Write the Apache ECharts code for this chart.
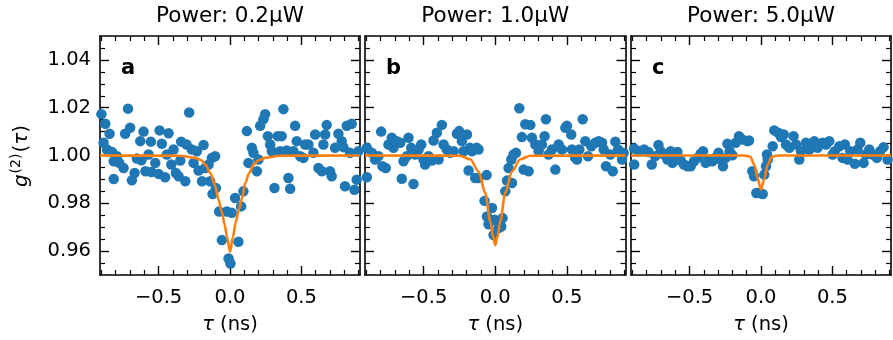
<!DOCTYPE html>
<html>
<head>
<meta charset="utf-8">
<script src="https://cdn.jsdelivr.net/npm/echarts@6/dist/echarts.min.js"></script>
<style>
html,body{margin:0;padding:0;background:#fff;}
#chart{width:893px;height:340px;}
</style>
</head>
<body>
<div id="chart"></div>
<script>
// ---------------- data ----------------
const panelTitles = ['Power: 0.2\u03bcW', 'Power: 1.0\u03bcW', 'Power: 5.0\u03bcW'];
const panelLetters = ['a', 'b', 'c'];
const xTicks = [-0.5, 0, 0.5];
const xMinorTicks = [-0.9,-0.8,-0.7,-0.6,-0.4,-0.3,-0.2,-0.1,0.1,0.2,0.3,0.4,0.6,0.7,0.8,0.9];
const yTicks = [0.96, 0.98, 1.00, 1.02, 1.04];
const yMinorTicks = [0.955,0.965,0.97,0.975,0.985,0.99,0.995,1.005,1.01,1.015,1.025,1.03,1.035,1.045];

const tauA = [-0.900,-0.885,-0.873,-0.861,-0.843,-0.826,-0.814,-0.814,-0.791,-0.775,-0.745,-0.734,-0.714,-0.699,-0.687,-0.668,-0.652,-0.628,-0.620,-0.605,-0.592,-0.570,-0.554,-0.551,-0.523,-0.500,-0.493,-0.477,-0.454,-0.442,-0.430,-0.411,-0.395,-0.379,-0.360,-0.348,-0.342,-0.313,-0.304,-0.286,-0.267,-0.255,-0.232,-0.220,-0.196,-0.185,-0.174,-0.150,-0.139,-0.127,-0.122,-0.104,-0.099,-0.076,-0.057,-0.022,-0.010,0.003,0.013,0.036,0.059,0.078,0.094,0.118,0.129,0.153,0.164,0.188,0.199,0.211,0.234,0.246,0.265,0.281,0.293,0.311,0.334,0.351,0.362,0.374,0.397,0.409,0.421,0.444,0.456,0.467,0.491,0.514,0.526,0.549,0.584,0.596,0.619,0.643,0.654,0.666,0.677,0.700,0.712,0.735,0.759,0.782,0.794,0.805,0.817,0.840,0.852,0.871,0.887,0.899];
const g2A = [1.0173,1.0053,1.0133,1.0025,1.0091,1.0015,0.9976,0.9902,0.9997,0.9969,0.9948,1.0091,1.0196,1.0116,0.9896,0.9927,0.9987,1.0060,0.9980,1.0100,0.9934,1.0004,1.0058,0.9931,0.9969,0.9923,1.0105,1.0049,0.9909,1.0004,1.0093,0.9962,1.0025,0.9927,0.9913,0.9979,1.0058,0.9892,1.0046,1.0180,1.0025,0.9969,1.0018,0.9937,0.9892,1.0044,0.9948,0.9962,0.9892,0.9990,0.9839,0.9997,0.9864,0.9766,0.9646,0.9766,0.9569,0.9548,0.9760,0.9822,0.9639,0.9787,0.9850,1.0102,0.9969,1.0032,1.0011,0.9934,0.9983,1.0124,1.0152,1.0173,1.0081,1.0046,1.0018,0.9864,1.0081,1.0018,1.0081,1.0194,1.0021,0.9906,0.9861,1.0018,1.0124,1.0060,0.9997,0.9990,1.0046,1.0046,1.0011,1.0088,0.9948,0.9934,1.0046,1.0088,1.0128,0.9934,0.9913,1.0032,1.0091,1.0060,1.0035,0.9871,1.0124,1.0011,1.0133,0.9857,0.9899,1.0018];

const tauB = [-0.897,-0.897,-0.862,-0.839,-0.816,-0.797,-0.788,-0.765,-0.746,-0.723,-0.711,-0.688,-0.664,-0.653,-0.641,-0.618,-0.606,-0.587,-0.571,-0.559,-0.536,-0.517,-0.501,-0.490,-0.466,-0.443,-0.431,-0.408,-0.396,-0.373,-0.361,-0.338,-0.315,-0.291,-0.268,-0.252,-0.233,-0.221,-0.198,-0.186,-0.177,-0.163,-0.140,-0.130,-0.117,-0.117,-0.075,-0.060,-0.058,-0.047,-0.035,-0.023,-0.012,-0.005,0.023,0.042,0.051,0.070,0.082,0.093,0.112,0.117,0.128,0.145,0.168,0.186,0.198,0.210,0.233,0.245,0.256,0.280,0.303,0.326,0.345,0.354,0.373,0.396,0.420,0.443,0.466,0.490,0.501,0.531,0.536,0.559,0.571,0.587,0.611,0.629,0.648,0.671,0.699,0.723,0.746,0.758,0.774,0.804,0.821,0.839,0.858,0.886,0.897];
const g2B = [1.0032,0.9909,1.0011,0.9983,0.9997,1.0100,0.9955,0.9948,1.0046,1.0074,1.0032,1.0060,1.0053,0.9903,0.9976,0.9997,1.0074,1.0032,0.9881,1.0004,1.0025,1.0046,0.9983,0.9962,0.9997,0.9979,1.0063,1.0095,0.9983,1.0128,1.0046,1.0025,1.0011,1.0018,1.0091,1.0102,1.0060,1.0018,1.0088,0.9937,1.0032,1.0018,0.9906,1.0032,0.9906,1.0025,0.9810,0.9918,0.9745,0.9712,0.9730,0.9780,0.9667,0.9731,0.9696,0.9703,0.9738,0.9850,0.9895,0.9948,0.9983,0.9885,1.0004,1.0011,1.0198,1.0077,0.9941,1.0131,0.9934,1.0128,1.0074,1.0046,1.0018,1.0046,1.0081,1.0152,1.0004,1.0025,0.9941,1.0046,1.0025,1.0116,1.0124,1.0088,1.0025,0.9990,0.9983,1.0025,1.0152,1.0060,0.9997,1.0039,1.0053,1.0060,1.0053,1.0025,0.9955,1.0004,0.9934,1.0058,1.0025,0.9983,1.0011];

const tauC = [-0.888,-0.888,-0.853,-0.818,-0.788,-0.765,-0.741,-0.718,-0.702,-0.678,-0.655,-0.632,-0.620,-0.597,-0.585,-0.562,-0.539,-0.515,-0.492,-0.469,-0.445,-0.422,-0.406,-0.387,-0.364,-0.340,-0.322,-0.298,-0.282,-0.266,-0.247,-0.235,-0.219,-0.200,-0.177,-0.154,-0.131,-0.096,-0.084,-0.061,-0.049,-0.033,-0.012,0.012,0.023,0.035,0.042,0.047,0.082,0.093,0.121,0.140,0.159,0.175,0.198,0.228,0.245,0.268,0.280,0.315,0.338,0.373,0.396,0.431,0.455,0.478,0.501,0.517,0.548,0.571,0.587,0.606,0.625,0.657,0.676,0.695,0.718,0.734,0.758,0.781,0.811,0.834,0.858,0.886];
const g2C = [1.0029,0.9962,1.0018,1.0025,1.0015,0.9962,0.9997,1.0044,1.0018,1.0004,0.9983,1.0018,0.9969,0.9990,1.0015,0.9979,0.9962,0.9955,0.9955,0.9976,0.9990,1.0007,1.0018,0.9969,0.9983,0.9976,0.9990,1.0011,0.9983,0.9955,0.9990,1.0049,1.0018,1.0001,1.0053,1.0081,1.0067,1.0060,1.0063,0.9934,0.9913,0.9843,0.9843,0.9839,0.9920,0.9955,1.0004,0.9983,1.0039,1.0105,1.0095,1.0077,1.0088,1.0046,1.0032,1.0081,1.0046,0.9983,1.0018,1.0053,1.0025,1.0060,1.0032,1.0053,1.0046,1.0060,1.0004,1.0018,1.0039,0.9990,1.0046,0.9983,1.0018,0.9965,1.0025,1.0053,0.9969,1.0004,1.0025,1.0004,0.9990,1.0018,1.0035,0.9983];

// fitted curves, values
const fitTauA = [-0.91,-0.35,-0.245,-0.2,-0.17,-0.138,-0.105,-0.08,-0.058,-0.037,-0.021,0,0.021,0.04,0.06,0.084,0.107,0.135,0.165,0.2,0.247,0.35,0.91];
const fitA    = [1.0,0.9999,0.999,0.998,0.996,0.9927,0.9875,0.9815,0.9765,0.971,0.966,0.9597,0.966,0.972,0.977,0.982,0.9885,0.9927,0.9962,0.998,0.999,0.9999,1.0];
const fitTauB = [-0.91,-0.245,-0.175,-0.115,-0.07,-0.035,-0.015,0,0.015,0.035,0.07,0.115,0.175,0.245,0.91];
const fitB    = [1.0,0.9999,0.9984,0.9932,0.9843,0.9725,0.966,0.9625,0.966,0.9725,0.9843,0.9932,0.9984,0.9999,1.0];
const fitTauC = [-0.91,-0.12,-0.075,-0.046,-0.023,0,0.023,0.046,0.075,0.12,0.91];
const fitC    = [1.0,1.0,0.9995,0.996,0.9903,0.9857,0.9903,0.996,0.9995,1.0,1.0];

// ---------------- layout ----------------
const grids = [
  {left: 100, top: 36, width: 260, height: 239},
  {left: 365, top: 36, width: 260.5, height: 239},
  {left: 631, top: 36, width: 260, height: 239}
];
const XMIN = -0.91, XMAX = 0.91, YMIN = 0.95, YMAX = 1.05;
const FONT = 'DejaVu Sans';
const TICKFS = 19.5;
const zip = (a, b) => a.map((v, i) => [v, b[i]]);
const fmtMinus = v => (v < 0 ? '\u2212' : '') + Math.abs(v).toFixed(1);

const xAxes = [], yAxes = [], series = [], graphics = [];
const scatters = [zip(tauA, g2A), zip(tauB, g2B), zip(tauC, g2C)];
const fits = [zip(fitTauA, fitA), zip(fitTauB, fitB), zip(fitTauC, fitC)];

grids.forEach((g, gi) => {
  const baseX = {type: 'value', gridIndex: gi, min: XMIN, max: XMAX, splitLine: {show: false}};
  const baseY = {type: 'value', gridIndex: gi, min: YMIN, max: YMAX, splitLine: {show: false}};
  const line = {show: true, onZero: false, lineStyle: {color: '#000', width: 1.6}};
  const noLine = {show: false, onZero: false};
  const majT = vals => ({show: true, inside: true, length: 9, customValues: vals, lineStyle: {color: '#000', width: 1.4}});
  const minT = vals => ({show: true, inside: true, length: 5, customValues: vals, lineStyle: {color: '#000', width: 1.2}});
  // bottom major
  xAxes.push(Object.assign({}, baseX, {
    position: 'bottom', axisLine: line, axisTick: majT(xTicks),
    axisLabel: {show: true, customValues: xTicks, formatter: fmtMinus, margin: 13,
      fontFamily: FONT, fontSize: TICKFS, color: '#000'},
    name: '{i|\u03c4} (ns)', nameLocation: 'middle', nameGap: 40,
    nameTextStyle: {fontFamily: FONT, fontSize: TICKFS, color: '#000',
      rich: {i: {fontFamily: FONT, fontSize: TICKFS, fontStyle: 'italic', color: '#000'}}}
  }));
  xAxes.push(Object.assign({}, baseX, {position: 'bottom', axisLine: noLine, axisTick: minT(xMinorTicks), axisLabel: {show: false}}));
  xAxes.push(Object.assign({}, baseX, {position: 'top', axisLine: line, axisTick: majT(xTicks), axisLabel: {show: false}}));
  xAxes.push(Object.assign({}, baseX, {position: 'top', axisLine: noLine, axisTick: minT(xMinorTicks), axisLabel: {show: false}}));
  // left major
  yAxes.push(Object.assign({}, baseY, {
    position: 'left', axisLine: line, axisTick: majT(yTicks),
    axisLabel: {show: gi === 0, customValues: yTicks, formatter: v => v.toFixed(2), margin: 9,
      fontFamily: FONT, fontSize: TICKFS, color: '#000'}
  }));
  yAxes.push(Object.assign({}, baseY, {position: 'left', axisLine: noLine, axisTick: minT(yMinorTicks), axisLabel: {show: false}}));
  yAxes.push(Object.assign({}, baseY, {position: 'right', axisLine: line, axisTick: majT(yTicks), axisLabel: {show: false}}));
  yAxes.push(Object.assign({}, baseY, {position: 'right', axisLine: noLine, axisTick: minT(yMinorTicks), axisLabel: {show: false}}));

  series.push({
    type: 'scatter', xAxisIndex: gi * 4, yAxisIndex: gi * 4, data: scatters[gi],
    symbolSize: 10.5, itemStyle: {color: '#1f77b4', opacity: 1}, silent: true, z: 2
  });
  series.push({
    type: 'line', xAxisIndex: gi * 4, yAxisIndex: gi * 4, data: fits[gi],
    showSymbol: false, smooth: 0.3, smoothMonotone: 'x',
    lineStyle: {color: '#ff7f0e', width: 2.6}, silent: true, z: 3
  });

  graphics.push({
    type: 'text', x: g.left + g.width / 2, y: 16,
    style: {text: panelTitles[gi], fontFamily: FONT, fontSize: 21.5, fill: '#000', align: 'center', verticalAlign: 'middle'}
  });
  graphics.push({
    type: 'text', x: g.left + 21, y: 69,
    style: {text: panelLetters[gi], fontFamily: FONT, fontSize: 21, fontWeight: 'bold', fill: '#000', align: 'left', verticalAlign: 'middle'}
  });
});

graphics.push({
  type: 'text', x: 22, y: 156, rotation: Math.PI / 2,
  style: {
    text: '{i|g}{s|(2)}{n|(}{i|\u03c4}{n|)}', align: 'center', verticalAlign: 'middle',
    rich: {
      i: {fontFamily: FONT, fontSize: 20, fontStyle: 'italic', fill: '#000', color: '#000'},
      n: {fontFamily: FONT, fontSize: 20, fill: '#000', color: '#000'},
      s: {fontFamily: FONT, fontSize: 14, fill: '#000', color: '#000', padding: [0, 1, 11, 1]}
    }
  }
});

const chart = echarts.init(document.getElementById('chart'), null, {renderer: 'canvas'});
chart.setOption({
  animation: false,
  backgroundColor: '#fff',
  grid: grids.map(g => Object.assign({containLabel: false, outerBoundsMode: 'none'}, g)),
  xAxis: xAxes,
  yAxis: yAxes,
  series: series,
  graphic: graphics
});
</script>
</body>
</html>
